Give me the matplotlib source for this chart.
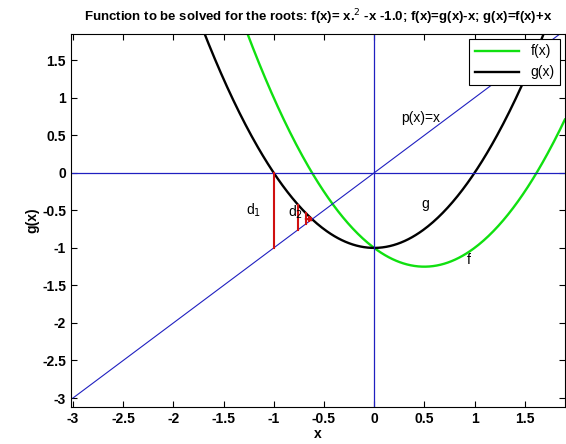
import numpy as np
import matplotlib.pyplot as plt

# polynomial coefficients (highest power first)
f_coef = [1.0, -1.0, -1.0]   # f(x) = x^2 - x - 1
g_coef = [1.0, 0.0, -1.0]    # g(x) = f(x) + x
x_range = [-3.0, 1.9]
# iterates whose distance g(x)-x is marked in red
iter_x = [-1.0, -0.755, -0.68, -0.645, -0.63]

x = np.linspace(x_range[0], x_range[1], 400)
f = np.polyval(f_coef, x)
g = np.polyval(g_coef, x)

plt.rcParams['font.family'] = ['Liberation Sans', 'DejaVu Sans']
fig = plt.figure(figsize=(5.66, 4.44), dpi=100)
ax = fig.add_axes([0.1254, 0.0833, 0.8726, 0.8401])

ax.plot(x, f, color='#10e010', lw=1.7, label='f(x)')
ax.plot(x, g, color='black', lw=1.7, label='g(x)')
ax.plot(x, x, color='#2020c0', lw=0.8)
ax.axhline(0, color='#2020c0', lw=0.9)
ax.axvline(0, color='#2020c0', lw=0.9)

for xi in iter_x:
    ax.plot([xi, xi], [np.polyval(g_coef, xi), xi], color='#d01010', lw=1.5)
ax.plot([iter_x[2], iter_x[4]], [iter_x[2] + 0.07, iter_x[4]], color='#d01010', lw=1.5)

ax.text(-1.28, -0.55, 'd$_1$', fontsize=10)
ax.text(-0.86, -0.58, 'd$_2$', fontsize=10)
ax.text(0.47, -0.47, 'g', fontsize=10)
ax.text(0.92, -1.22, 'f', fontsize=10)
ax.text(0.27, 0.68, 'p(x)=x', fontsize=10)

ax.set_xlim(-3.02, 1.9)
ax.set_ylim(-3.12, 1.85)
ax.set_xticks(np.arange(-3, 2, 0.5))
ax.set_yticks(np.arange(-3, 2, 0.5))
ax.set_xticklabels(['-3', '-2.5', '-2', '-1.5', '-1', '-0.5', '0', '0.5', '1', '1.5'])
ax.set_yticklabels(['-3', '-2.5', '-2', '-1.5', '-1', '-0.5', '0', '0.5', '1', '1.5'])
ax.tick_params(direction='in', top=True, right=True, length=4, labelsize=10)
for lab in ax.get_xticklabels() + ax.get_yticklabels():
    lab.set_fontweight('bold')

ax.set_xlabel('x', fontsize=10, fontweight='bold', labelpad=1)
ax.set_ylabel('g(x)', fontsize=10, fontweight='bold', labelpad=2)
ax.set_title('Function to be solved for the roots: f(x)= x.$^2$ -x -1.0; f(x)=g(x)-x; g(x)=f(x)+x',
             fontsize=9.5, fontweight='bold', pad=9)

leg = ax.legend(loc='upper right', fontsize=10, fancybox=False, framealpha=1,
                edgecolor='black', handlelength=3.2, borderaxespad=0.35)
leg.get_frame().set_linewidth(0.8)

fig.savefig('out.png', dpi=100)
